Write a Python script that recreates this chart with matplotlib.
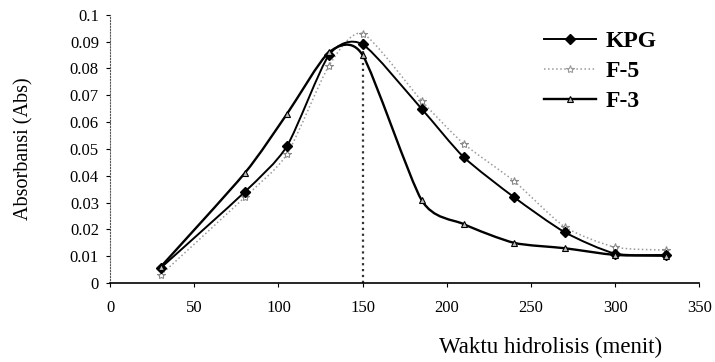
import numpy as np
import matplotlib
matplotlib.use('Agg')
import matplotlib.pyplot as plt
from matplotlib.path import Path
from matplotlib.patches import PathPatch
from matplotlib.lines import Line2D

plt.rcParams['font.family'] = ['Liberation Serif', 'DejaVu Serif']

# Data
waktu = [30, 80, 105, 130, 150, 185, 210, 240, 270, 300, 330]
kpg = [0.0056, 0.034, 0.051, 0.085, 0.089, 0.065, 0.047, 0.032, 0.019, 0.011, 0.0105]
f5 = [0.003, 0.032, 0.048, 0.081, 0.093, 0.068, 0.052, 0.038, 0.021, 0.0134, 0.0123]
f3 = [0.006, 0.041, 0.063, 0.086, 0.085, 0.031, 0.022, 0.015, 0.013, 0.0105, 0.0102]


def smooth_path(x, y, k=0.7):
    # Excel-like smoothed line: cubic Bezier through the points
    p = np.column_stack([x, y])
    n = len(p)
    verts = [p[0]]
    codes = [Path.MOVETO]
    for i in range(n - 1):
        p0 = p[i - 1] if i > 0 else p[i]
        p3 = p[i + 2] if i + 2 < n else p[i + 1]
        c1 = p[i] + (p[i + 1] - p0) / 6 * k
        c2 = p[i + 1] - (p3 - p[i]) / 6 * k
        verts += [c1, c2, p[i + 1]]
        codes += [Path.CURVE4] * 3
    return Path(verts, codes)


fig = plt.figure(figsize=(7.15, 3.62), dpi=100)
ax = fig.add_axes([0.154, 0.218, 0.824, 0.741])

# vertical dotted line at 150 min
ax.plot([150, 150], [0, 0.092], color='#333333', linestyle=':', linewidth=1.6, zorder=1)

ax.add_patch(PathPatch(smooth_path(waktu, f5), facecolor='none', edgecolor='#9a9a9a',
                       linestyle=':', linewidth=1.1, zorder=2))
ax.add_patch(PathPatch(smooth_path(waktu, kpg), facecolor='none', edgecolor='black',
                       linewidth=1.4, zorder=3))
ax.add_patch(PathPatch(smooth_path(waktu, f3), facecolor='none', edgecolor='black',
                       linewidth=1.7, zorder=3))

ax.plot(waktu, f5, linestyle='none', marker='*', markersize=6, color='#8a8a8a',
        markerfacecolor='white', markeredgewidth=0.8, zorder=4)
ax.plot(waktu, kpg, linestyle='none', marker='D', markersize=5.5, color='black', zorder=5)
ax.plot(waktu, f3, linestyle='none', marker='^', markersize=5, color='black',
        markerfacecolor='#bbbbbb', markeredgewidth=0.8, zorder=5)

ax.set_xlim(0, 350)
ax.set_ylim(0, 0.1)
ax.set_xticks([0, 50, 100, 150, 200, 250, 300, 350])
ax.set_yticks([0, 0.01, 0.02, 0.03, 0.04, 0.05, 0.06, 0.07, 0.08, 0.09, 0.1])
ax.set_yticklabels(['0', '0.01', '0.02', '0.03', '0.04', '0.05', '0.06', '0.07',
                    '0.08', '0.09', '0.1'])
ax.tick_params(axis='both', labelsize=12, length=3, width=0.8, direction='out')
ax.tick_params(axis='x', pad=9)
ax.tick_params(axis='y', pad=5)

for s in ['top', 'right']:
    ax.spines[s].set_visible(False)
ax.spines['left'].set_linestyle(':')
ax.spines['left'].set_color('#555555')
ax.spines['bottom'].set_linewidth(1.2)

ax.set_ylabel('Absorbansi (Abs)', fontsize=14.5)
ax.yaxis.set_label_coords(-0.13, 0.5)
fig.text(0.77, 0.04, 'Waktu hidrolisis (menit)', fontsize=16.5, ha='center', va='center')

handles = [
    Line2D([], [], color='black', linewidth=1.4, marker='D', markersize=5.5),
    Line2D([], [], color='#9a9a9a', linestyle=':', linewidth=1.1, marker='*',
           markersize=6, markerfacecolor='white', markeredgewidth=0.8),
    Line2D([], [], color='black', linewidth=1.7, marker='^', markersize=5,
           markerfacecolor='#bbbbbb', markeredgewidth=0.8),
]
leg = ax.legend(handles, ['KPG', 'F-5', 'F-3'], loc='upper left',
                bbox_to_anchor=(0.7, 1.02), frameon=False, handlelength=2.2,
                labelspacing=0.35, handletextpad=0.4,
                prop={'family': 'Liberation Serif', 'weight': 'bold', 'size': 17})

fig.savefig('out.png', dpi=100)
